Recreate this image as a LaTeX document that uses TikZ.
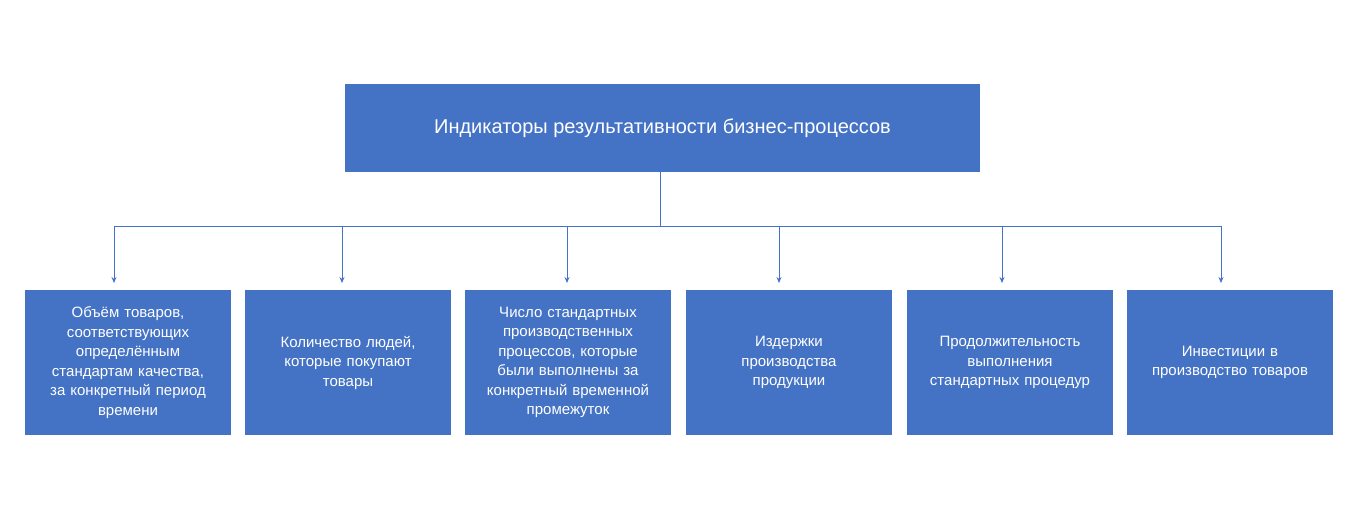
\documentclass[tikz,border=0pt]{standalone}
\usepackage{fontspec}
\setmainfont{Liberation Sans}
\usetikzlibrary{arrows.meta}
\definecolor{bx}{HTML}{4472C4}
\begin{document}
\begin{tikzpicture}[x=1pt,y=-1pt,
  topbox/.style={fill=bx,text=white,minimum width=635pt,minimum height=88pt,inner sep=0pt,font=\fontsize{20}{24}\selectfont},
  lowbox/.style={fill=bx,text=white,minimum width=206pt,minimum height=145pt,inner sep=0pt,align=center,text width=196pt,font=\fontsize{15}{19.5}\selectfont},
  conn/.style={draw=bx,line width=0.8pt},
  arr/.style={conn,-{Stealth[length=6pt,width=5pt]}}]
\useasboundingbox (0,0) rectangle (1361,512);
\node[topbox] (top) at (662.5,128) {Индикаторы результативности бизнес-процессов};
\node[lowbox] (b1) at (128,362.5) {Объём товаров,\\соответствующих\\определённым\\стандартам качества,\\за конкретный период\\времени};
\node[lowbox] (b2) at (348,362.5) {Количество людей,\\которые покупают\\товары};
\node[lowbox] (b3) at (568,362.5) {Число стандартных\\производственных\\процессов, которые\\были выполнены за\\конкретный временной\\промежуток};
\node[lowbox] (b4) at (789,362.5) {Издержки\\производства\\продукции};
\node[lowbox] (b5) at (1010,362.5) {Продолжительность\\выполнения\\стандартных процедур};
\node[lowbox] (b6) at (1230,362.5) {Инвестиции в\\производство товаров};
\coordinate (j) at (660,226);
\coordinate (l) at (114,226);
\coordinate (r) at (1221,226);
\draw[conn] (660,172) -- (j);
\draw[conn] (l) -- (r);
\foreach \b/\x in {b1/114,b2/342,b3/567,b4/779,b5/1002,b6/1221}{
  \draw[arr] (\x,226) -- (\x,283);
}
\end{tikzpicture}
\end{document}
